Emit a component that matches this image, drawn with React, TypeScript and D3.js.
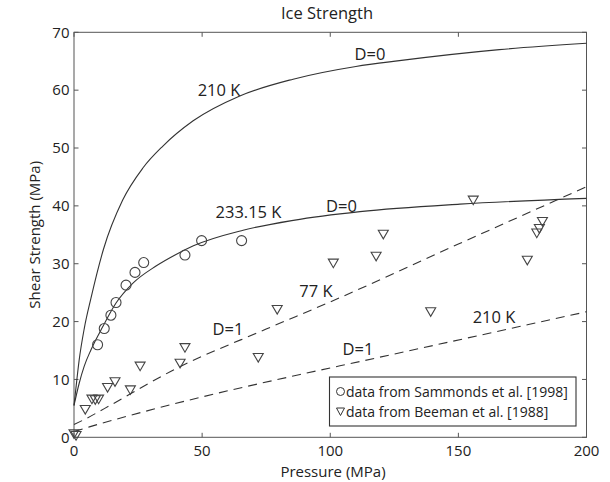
import React, { useEffect, useRef } from 'react';
import * as d3 from 'd3';

// measured data (Pressure in MPa, shear strength in MPa)
const sammondsP = [9.2, 11.8, 14.4, 16.4, 20.3, 23.8, 27.2, 43.3, 49.8, 65.4];
const sammondsS = [16.0, 18.8, 21.1, 23.3, 26.3, 28.5, 30.2, 31.5, 34.0, 34.0];

const beemanP = [0, 0.8, 4.4, 7.0, 8.3, 9.6, 13.1, 16.0, 22.0, 25.8, 41.4, 43.3, 71.9, 79.3, 101.2, 117.9, 120.7, 139.2, 155.8, 176.9, 180.6, 181.6, 182.8];
const beemanS = [0.6, 0.3, 4.8, 6.6, 6.5, 6.6, 8.6, 9.6, 8.2, 12.3, 12.8, 15.5, 13.8, 22.1, 30.1, 31.3, 35.1, 21.7, 41.0, 30.6, 35.3, 36.1, 37.3];

// model curves
const intact210P = [0, 1, 2, 4, 6.6, 11.5, 19, 26.8, 34.6, 46.5, 64.7, 85.5, 110, 127, 166, 200];
const intact210S = [5.5, 9.5, 13.3, 18.8, 24.0, 32.5, 41.0, 46.5, 50.3, 54.7, 59.0, 61.9, 64.1, 65.1, 67.0, 68.1];

const intact233P = [0, 2, 4, 6.6, 11.2, 16.4, 22.9, 32, 39.8, 46.6, 66, 85.6, 111.6, 150.6, 200];
const intact233S = [5.5, 9.3, 12.3, 15.1, 19.1, 23.2, 26.6, 29.6, 31.6, 33.1, 35.8, 37.5, 39.0, 40.3, 41.3];

const damaged77P = [0, 5, 12, 40, 75, 100, 150, 200];
const damaged77S = [2.2, 3.3, 5.0, 11.9, 18.7, 23.4, 33.4, 43.3];

const damaged210P = [0, 6, 37.5, 90.8, 111.6, 200];
const damaged210S = [1.0, 1.8, 5.6, 11.1, 13.1, 21.7];

const xTicks = [0, 50, 100, 150, 200];
const yTicks = [0, 10, 20, 30, 40, 50, 60, 70];

// curve labels: [text, pressure, strength] (text centre x, baseline y)
const labels: [string, number, number][] = [
  ['D=0', 115.5, 65.2],
  ['210 K', 56.6, 59.0],
  ['233.15 K', 68.1, 37.9],
  ['D=0', 104.4, 39.0],
  ['77 K', 94.4, 24.3],
  ['D=1', 60.1, 17.7],
  ['210 K', 163.9, 19.75],
  ['D=1', 110.8, 14.2],
];

const W = 610;
const H = 482;
const margin = { top: 32.3, right: 23.5, bottom: 44.7, left: 74 };
const FONT = '"Open Sans", sans-serif';
const INK = '#333';

const zip = (a: number[], b: number[]) => a.map((v, i) => [v, b[i]] as [number, number]);

export default function App() {
  const ref = useRef<SVGSVGElement>(null);

  useEffect(() => {
    const svg = d3.select(ref.current);
    svg.selectAll('*').remove();

    const x = d3.scaleLinear().domain([0, 200]).range([margin.left, W - margin.right]);
    const y = d3.scaleLinear().domain([0, 70]).range([H - margin.bottom, margin.top]);
    const [x0, x1] = x.range();
    const [y0, y1] = y.range();

    svg.append('rect').attr('width', W).attr('height', H).attr('fill', '#fff');

    // frame with inward ticks on all four sides
    const axes = svg.append('g').attr('stroke', '#555').attr('stroke-width', 1).attr('fill', 'none');
    axes.append('rect').attr('x', x0).attr('y', y1).attr('width', x1 - x0).attr('height', y0 - y1);
    const tl = 4.5;
    xTicks.forEach((t) => {
      axes.append('line').attr('x1', x(t)).attr('x2', x(t)).attr('y1', y0).attr('y2', y0 - tl);
      axes.append('line').attr('x1', x(t)).attr('x2', x(t)).attr('y1', y1).attr('y2', y1 + tl);
    });
    yTicks.forEach((t) => {
      axes.append('line').attr('x1', x0).attr('x2', x0 + tl).attr('y1', y(t)).attr('y2', y(t));
      axes.append('line').attr('x1', x1).attr('x2', x1 - tl).attr('y1', y(t)).attr('y2', y(t));
    });

    const txt = svg.append('g').attr('font-family', FONT).attr('fill', '#222').attr('font-size', 15);
    txt.selectAll('.xt').data(xTicks).enter().append('text')
      .attr('x', (d) => x(d)).attr('y', y0 + 18.7).attr('text-anchor', 'middle').text((d) => d);
    txt.selectAll('.yt').data(yTicks).enter().append('text')
      .attr('x', x0 - 4.5).attr('y', (d) => y(d) + 5.2).attr('text-anchor', 'end').text((d) => d);

    txt.append('text').attr('x', 333).attr('y', 477).attr('text-anchor', 'middle').text('Pressure (MPa)');
    txt.append('text').attr('transform', `translate(40, ${(y0 + y1) / 2}) rotate(-90)`)
      .attr('text-anchor', 'middle').text('Shear Strength (MPa)');
    txt.append('text').attr('x', 327).attr('y', 18.5).attr('text-anchor', 'middle')
      .attr('font-size', 16.5).text('Ice Strength');

    // model curves
    const line = d3.line<[number, number]>()
      .x((d) => x(d[0])).y((d) => y(d[1]))
      .curve(d3.curveMonotoneX);
    const curves = svg.append('g').attr('fill', 'none').attr('stroke', INK).attr('stroke-width', 1.1);
    curves.append('path').attr('d', line(zip(intact210P, intact210S)));
    curves.append('path').attr('d', line(zip(intact233P, intact233S)));
    curves.append('path').attr('d', line(zip(damaged77P, damaged77S))).attr('stroke-dasharray', '9,6');
    curves.append('path').attr('d', line(zip(damaged210P, damaged210S))).attr('stroke-dasharray', '9,6');

    // curve labels
    txt.selectAll('.lab').data(labels).enter().append('text')
      .attr('x', (d) => x(d[1])).attr('y', (d) => y(d[2])).attr('text-anchor', 'middle')
      .attr('font-size', 16.5).text((d) => d[0]);

    // markers
    const tri = 'M-5,-4L5,-4L0,4.6Z';
    const marks = svg.append('g').attr('fill', 'none').attr('stroke', '#444').attr('stroke-width', 1.1);
    marks.selectAll('.c').data(zip(sammondsP, sammondsS)).enter().append('circle')
      .attr('cx', (d) => x(d[0])).attr('cy', (d) => y(d[1])).attr('r', 5);
    marks.selectAll('.t').data(zip(beemanP, beemanS)).enter().append('path')
      .attr('d', tri).attr('transform', (d) => `translate(${x(d[0])},${y(d[1])})`);

    // legend
    const lg = svg.append('g');
    lg.append('rect').attr('x', 329.5).attr('y', 377).attr('width', 246.5).attr('height', 49)
      .attr('fill', '#fff').attr('stroke', INK).attr('stroke-width', 1.1);
    lg.append('circle').attr('cx', 340.5).attr('cy', 391.5).attr('r', 4)
      .attr('fill', 'none').attr('stroke', INK);
    lg.append('path').attr('d', 'M-4,-3.5L4,-3.5L0,4Z').attr('transform', 'translate(340.5,411.5)')
      .attr('fill', 'none').attr('stroke', INK);
    lg.append('text').attr('x', 346).attr('y', 396.5).attr('font-family', FONT).attr('font-size', 14)
      .attr('fill', '#222').text('data from Sammonds et al. [1998]');
    lg.append('text').attr('x', 346).attr('y', 416.5).attr('font-family', FONT).attr('font-size', 14)
      .attr('fill', '#222').text('data from Beeman et al. [1988]');
  }, []);

  return (
    <svg ref={ref} width={W} height={H} style={{ position: 'absolute', left: 0, top: 0 }} />
  );
}
